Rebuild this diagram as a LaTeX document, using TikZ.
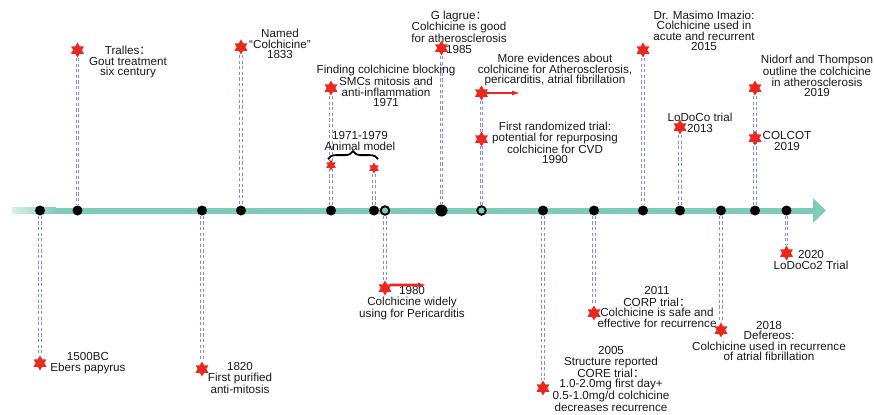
\documentclass[tikz,border=0pt]{standalone}
\usepackage{fontspec}
\setmainfont{Liberation Sans}
\newfontfamily\cjk{Noto Sans CJK SC}
\usetikzlibrary{positioning, arrows.meta, shapes.geometric, decorations.pathreplacing, backgrounds}
\definecolor{axisc}{HTML}{7FCBBA}
\definecolor{dashc}{HTML}{8A8AE4}
\definecolor{starc}{HTML}{E8291F}
\definecolor{txtc}{HTML}{1A1A1A}
\newcommand{\fwcolon}{{\cjk ：}}

\begin{document}
\begin{tikzpicture}[
  x=1bp, y=-1bp,
  lbl/.style={font=\fontsize{11.7}{10.5}\selectfont, text=txtc, align=center, inner sep=0pt},
  ev/.style={star, star points=6, star point ratio=1.73, fill=starc, inner sep=0pt, minimum size=15bp},
  evsmall/.style={ev, minimum size=11bp},
  dot/.style={circle, fill=black, inner sep=0pt, minimum size=10bp},
  hollow/.style={circle, draw=black, line width=1.9bp, fill=axisc, inner sep=0pt, minimum size=8.5bp},
  dline/.style={draw=dashc, line width=0.9bp, double=white, double distance=1.6bp, dash pattern=on 3.2bp off 2.4bp},
  axisline/.style={draw=axisc, line width=6bp, -{Triangle[length=13bp, width=24bp]}},
  redarrow/.style={draw=starc, line width=2.6bp, -{Latex[length=9bp, width=5bp]}},
  brace/.style={decorate, decoration={brace, amplitude=8bp}, line width=1.8bp}
]
  \useasboundingbox (0,0) rectangle (874,414);

  % dots on the time axis
  \node[dot] (d1500) at (40,210.5) {};
  \node[dot] (d6c) at (77.5,210.5) {};
  \node[dot] (d1820) at (202,210.5) {};
  \node[dot] (d1833) at (241,210.5) {};
  \node[dot] (d1971) at (331,210.5) {};
  \node[dot] (d1979) at (374,210.5) {};
  \node[hollow] (d1980) at (385,210.5) {};
  \node[dot, minimum size=12bp] (d1985) at (441.5,210.5) {};
  \node[hollow] (d1990) at (481.5,210.5) {};
  \node[dot] (d2005) at (543,210.5) {};
  \node[dot] (d2011) at (594,210.5) {};
  \node[dot] (d2015) at (643,210.5) {};
  \node[dot] (d2013) at (680,210.5) {};
  \node[dot] (d2018) at (721,210.5) {};
  \node[dot] (d2019) at (755,210.5) {};
  \node[dot] (d2020) at (786.5,210.5) {};

  % events above
  \node[ev] (s6c) at (77.5,50) {};
  \node[ev] (s1833) at (241,47) {};
  \node[ev] (s1971) at (331,88) {};
  \node[evsmall] (s71) at (331,165) {};
  \node[evsmall] (s79) at (374,168) {};
  \node[ev] (s1985) at (441.5,48) {};
  \node[ev] (sevid) at (481.5,93) {};
  \node[ev] (s1990) at (481.5,139) {};
  \node[ev] (s2015) at (643,50) {};
  \node[ev] (s2013) at (680,127) {};
  \node[ev] (snt) at (755,88) {};
  \node[ev] (scolcot) at (755,138) {};

  % events below
  \node[ev] (s1500) at (40,363) {};
  \node[ev] (s1820) at (202,369) {};
  \node[ev] (s1980) at (385,288) {};
  \node[ev] (s2005) at (543,388) {};
  \node[ev] (s2011) at (594,313) {};
  \node[ev] (s2018) at (721,330) {};
  \node[ev] (s2020) at (786.5,253) {};

  % labels
  \node[lbl] (t6c) at (128,62) {Tralles\fwcolon\\Gout treatment\\six century};
  \node[lbl] (t1833) at (280,44) {Named\\“Colchicine”\\1833};
  \node[lbl] (t1971) at (386,86) {Finding colchicine blocking\\SMCs mitosis and\\anti-inflammation\\1971};
  \node[lbl] (tanimal) at (360,141) {1971-1979\\Animal model};
  \node[lbl] (t1985) at (459,32) {G lagrue\fwcolon\\Colchicine is good\\for atherosclerosis\\1985};
  \node[lbl] (tevid) at (555,70) {More evidences about\\colchicine for Atherosclerosis,\\pericarditis, atrial fibrillation};
  \node[lbl] (t1990) at (555,143) {First randomized trial:\\potential for repurposing\\colchicine for CVD\\1990};
  \node[lbl] (t2015) at (704,31) {Dr. Masimo Imazio:\\Colchicine used in\\acute and recurrent\\2015};
  \node[lbl] (t2013) at (700,123) {LoDoCo trial\\2013};
  \node[lbl] (tnt) at (817,76) {Nidorf and Thompson\\outline the colchicine\\in atherosclerosis\\2019};
  \node[lbl] (tcolcot) at (787,141) {COLCOT\\2019};
  \node[lbl] (t1500) at (88,363) {1500BC\\Ebers papyrus};
  \node[lbl] (t1820) at (240,378) {1820\\First purified\\anti-mitosis};
  \node[lbl] (t1980) at (412,303) {1980\\Colchicine widely\\using for Pericarditis};
  \node[lbl] (t2005) at (611,379) {2005\\Structure reported\\CORE trial\fwcolon\\1.0-2.0mg first day+\\0.5-1.0mg/d colchicine\\decreases recurrence};
  \node[lbl] (t2011) at (657,307) {2011\\[1.2bp]CORP trial\fwcolon\\Colchicine is safe and\\effective for recurrence};
  \node[lbl] (t2018) at (769,341) {2018\\Defereos:\\Colchicine used in recurrence\\of atrial fibrillation};
  \node[lbl] (t2020) at (811,260) {2020\\LoDoCo2 Trial};

  \coordinate (ax0) at (12,210.5);
  \coordinate (ax1) at (826,210.5);
  \coordinate (aevid) at (521,93);
  \coordinate (a1980) at (427,285);

  \draw[redarrow] (sevid.east) -- (aevid);
  \draw[redarrow] ([yshift=3bp]s1980.east) -- (a1980);
  \draw[brace] ([xshift=-3bp]s71.north) -- ([xshift=4bp]s71.north -| s79.north);

  \begin{scope}[on background layer]
    \fill[white] (0,0) rectangle (874,414);
    \draw[axisline] (ax0) -- (ax1);
    \shade[left color=axisc!30, right color=axisc] (12,207.5) rectangle (56,213.5);
    % upper connectors
    \draw[dline] (s6c) -- (d6c);
    \draw[dline] (s1833) -- (d1833);
    \draw[dline] (s1971) -- (d1971);
    \draw[dline] (s79) -- (d1979);
    \draw[dline] (s1985) -- (d1985);
    \draw[dline] (sevid) -- (d1990);
    \draw[dline] (s2015) -- (d2015);
    \draw[dline] (s2013) -- (d2013);
    \draw[dline] (snt) -- (d2019);
    % lower connectors
    \draw[dline] (d1500) -- (s1500);
    \draw[dline] (d1820) -- (s1820);
    \draw[dline] (d1980) -- (s1980);
    \draw[dline] (d2005) -- (s2005);
    \draw[dline] (d2011) -- (s2011);
    \draw[dline] (d2018) -- (s2018);
    \draw[dline] (d2020) -- (s2020);
  \end{scope}
\end{tikzpicture}
\end{document}
